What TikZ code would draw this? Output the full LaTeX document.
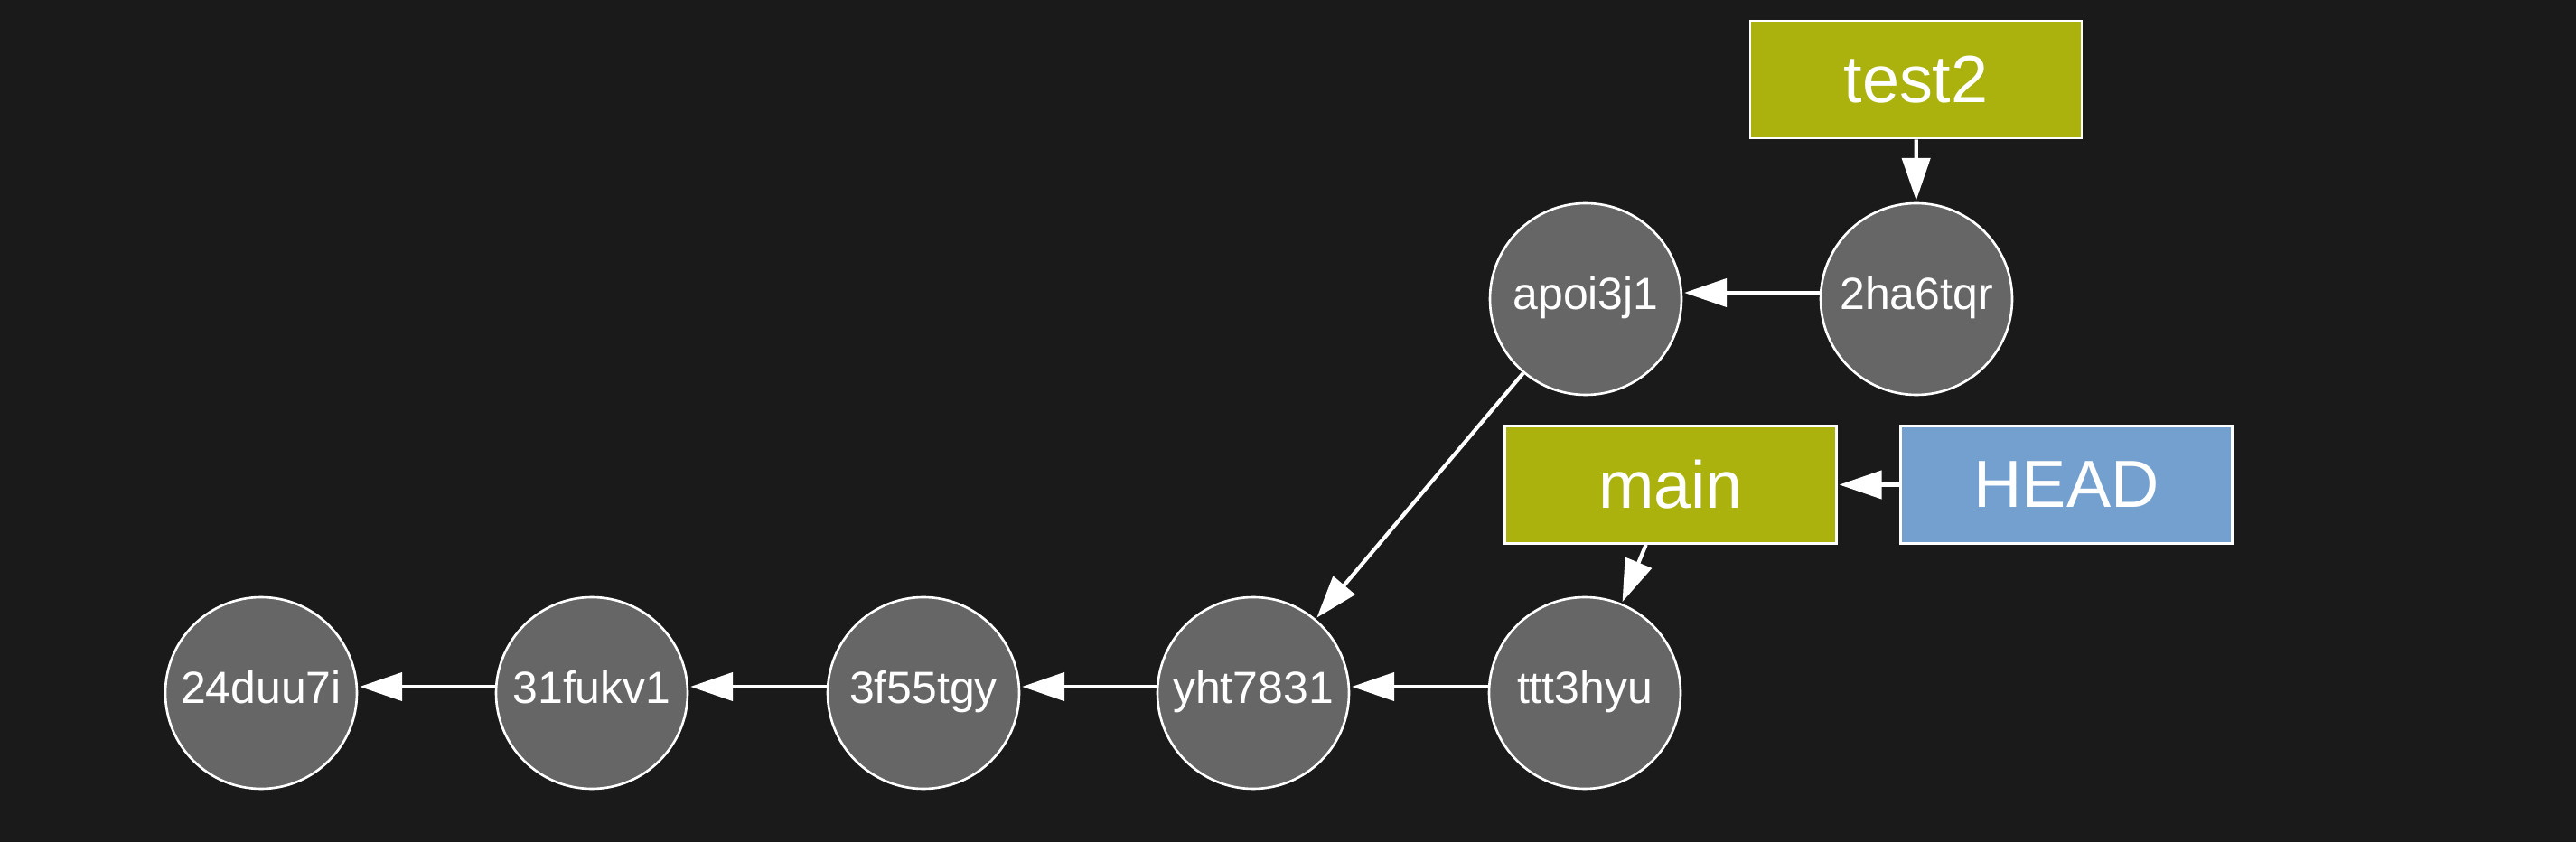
\documentclass[tikz,border=0pt]{standalone}
\usepackage{fontspec}
\setmainfont{Liberation Sans}
\usetikzlibrary{arrows.meta}
\definecolor{bg}{HTML}{1A1A1A}
\definecolor{commitfill}{HTML}{666666}
\definecolor{branchfill}{HTML}{ABB20E}
\definecolor{headfill}{HTML}{74A0D0}
\tikzset{
  commit/.style={circle, draw=white, line width=0.75pt, fill=commitfill, minimum size=2.12cm, inner sep=0pt, text height=0.36cm, text depth=0.136cm, text=white, font=\fontsize{14.2pt}{16pt}\selectfont},
  branch/.style={rectangle, draw=white, line width=0.75pt, fill=branchfill, minimum width=3.67cm, minimum height=1.30cm, inner sep=0pt, text=white, font=\fontsize{21pt}{24pt}\selectfont},
  headbox/.style={branch, fill=headfill},
  link/.style={draw=white, line width=1.2pt, -{Triangle[length=0.47cm, width=0.31cm]}, shorten >=0.5pt}
}
\begin{document}
\begin{tikzpicture}
\fill[bg] (0,0) rectangle (28.51,9.32);
\useasboundingbox (0,0) rectangle (28.51,9.32);
\node[commit] (c1) at (2.89,1.65) {24duu7i};
\node[commit] (c2) at (6.55,1.65) {31fukv1};
\node[commit] (c3) at (10.22,1.65) {3f55tgy};
\node[commit] (c4) at (13.87,1.65) {yht7831};
\node[commit] (c5) at (17.54,1.65) {ttt3hyu};
\node[commit] (a1) at (17.55,6.01) {apoi3j1};
\node[commit] (a2) at (21.21,6.01) {2ha6tqr};
\node[branch] (test2) at (21.205,8.44) {test2};
\node[branch] (main) at (18.49,3.955) {main};
\node[headbox] (head) at (22.87,3.955) {HEAD};
\draw[link] ([yshift=0.07cm]c2.west) -- ([yshift=0.07cm]c1.east);
\draw[link] ([yshift=0.07cm]c3.west) -- ([yshift=0.07cm]c2.east);
\draw[link] ([yshift=0.07cm]c4.west) -- ([yshift=0.07cm]c3.east);
\draw[link] ([yshift=0.07cm]c5.west) -- ([yshift=0.07cm]c4.east);
\draw[link] (a1) -- (c4);
\draw[link] ([yshift=0.07cm]a2.west) -- ([yshift=0.07cm]a1.east);
\draw[link] (test2) -- (a2);
\draw[link] (main) -- (c5);
\draw[link] (head) -- (main);
\end{tikzpicture}
\end{document}
